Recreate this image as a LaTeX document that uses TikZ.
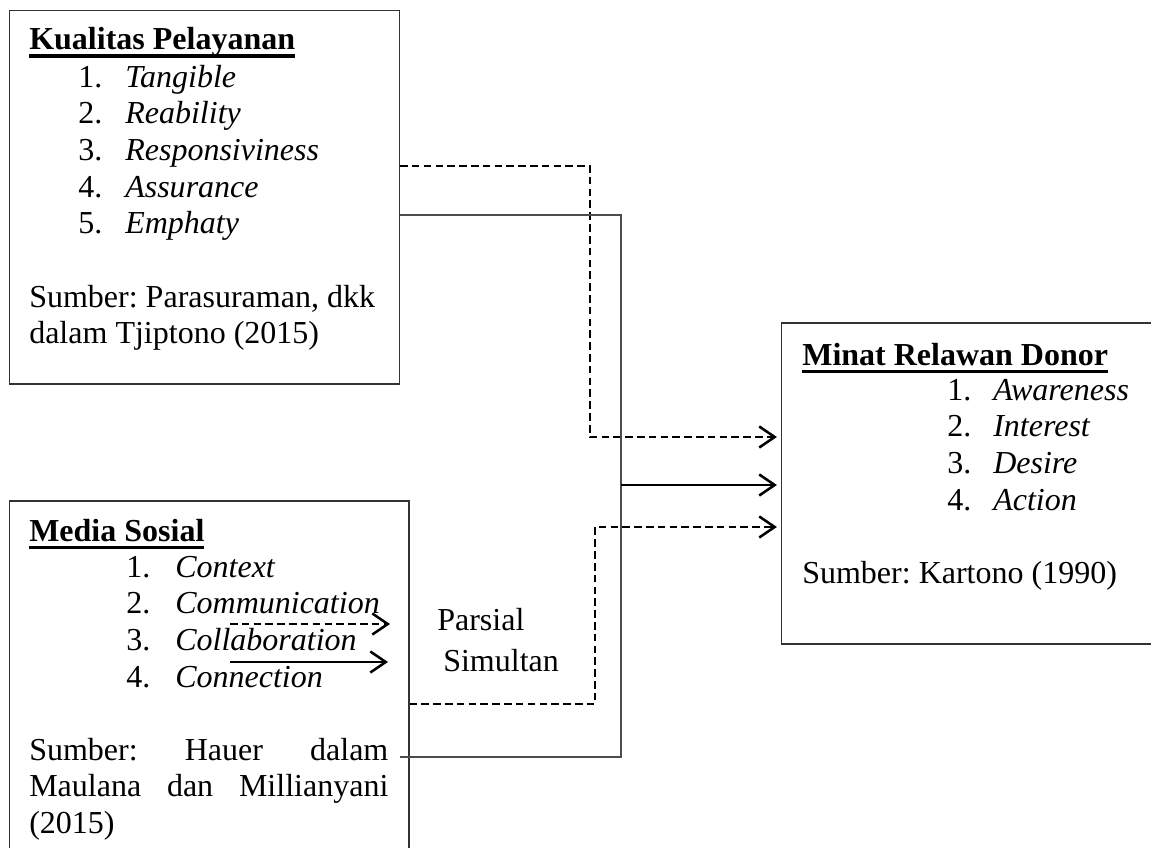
\documentclass[tikz,border=0pt]{standalone}
\usepackage{fontspec}
\setmainfont{Liberation Serif}
\usetikzlibrary{arrows.meta,fit,positioning}
\frenchspacing
\newcommand{\judul}[1]{\setbox0=\hbox{\bfseries #1}\rlap{\rule[-6pt]{\wd0}{2.6pt}}\box0}
\newcommand{\butir}[3][1.175cm]{\makebox[#1][l]{#2}\textit{#3}}

\begin{document}
\begin{tikzpicture}[x=0.025cm, y=-0.025cm,
    kotak/.style={draw=black!80, line width=0.8pt, inner sep=0pt},
    teks/.style={anchor=base west, inner sep=0pt, font=\fontsize{22.76}{27}\selectfont},
    garis/.style={draw=black!70, line width=1pt},
    putus/.style={line width=1.8pt, dash pattern=on 5.4pt off 3pt},
    panah/.style={-{Straight Barb[length=11pt,width=15pt,line width=1.8pt]}, line width=1.8pt}]
    \useasboundingbox (0,0) rectangle (1151,848);

    % kotak variabel
    \node[kotak, fit={(9.5,10.7) (399.5,384)}] (kp) {};
    \node[kotak, fit={(9.5,501) (409,858)}] (ms) {};
    \node[kotak, fit={(781.7,323) (1158,644)}] (mrd) {};

    % Kualitas Pelayanan
    \node[teks] (kp-judul) at (29,49.5) {\judul{Kualitas Pelayanan}};
    \node[teks] (kp-1) at (78,87) {\butir{1.}{Tangible}};
    \node[teks] (kp-2) at (78,123.5) {\butir{2.}{Reability}};
    \node[teks] (kp-3) at (78,160) {\butir{3.}{Responsiviness}};
    \node[teks] (kp-4) at (78,197) {\butir{4.}{Assurance}};
    \node[teks] (kp-5) at (78,233.5) {\butir{5.}{Emphaty}};
    \node[teks] (kp-s1) at (29,307) {Sumber: Parasuraman, dkk};
    \node[teks] (kp-s2) at (29,343.5) {dalam Tjiptono (2015)};

    % Media Sosial
    \node[teks] (ms-judul) at (29,541) {\judul{Media Sosial}};
    \node[teks] (ms-1) at (126,577) {\butir[1.225cm]{1.}{Context}};
    \node[teks] (ms-2) at (126,613.5) {\butir[1.225cm]{2.}{Communication}};
    \node[teks] (ms-3) at (126,650) {\butir[1.225cm]{3.}{Collaboration}};
    \node[teks] (ms-4) at (126,687) {\butir[1.225cm]{4.}{Connection}};
    \node[teks] (ms-s1) at (29,760) {\hbox to 8.975cm{Sumber:\hfill Hauer\hfill dalam}};
    \node[teks] (ms-s2) at (29,796.5) {\hbox to 8.975cm{Maulana\hfill dan\hfill Millianyani}};
    \node[teks] (ms-s3) at (29,833) {(2015)};

    % Minat Relawan Donor
    \node[teks] (mrd-judul) at (802,365) {\judul{Minat Relawan Donor}};
    \node[teks] (mrd-1) at (947,400) {\butir[1.15cm]{1.}{Awareness}};
    \node[teks] (mrd-2) at (947,436.5) {\butir[1.15cm]{2.}{Interest}};
    \node[teks] (mrd-3) at (947,473) {\butir[1.15cm]{3.}{Desire}};
    \node[teks] (mrd-4) at (947,510) {\butir[1.15cm]{4.}{Action}};
    \node[teks] (mrd-s) at (802,583) {Sumber: Kartono (1990)};

    % keterangan
    \coordinate (k1a) at (230,624);
    \coordinate (k1b) at (390,624);
    \coordinate (k2a) at (230,662);
    \coordinate (k2b) at (388,662);
    \draw[putus, panah] (k1a) -- (k1b);
    \draw[panah] (k2a) -- (k2b);
    \node[teks] (parsial) at (437,630) {Parsial};
    \node[teks] (simultan) at (443,671) {Simultan};

    % hubungan
    \coordinate (t1) at (590,166);
    \coordinate (b1) at (590,437);
    \draw[putus, panah, shorten >=3pt] (kp.east |- t1) -| (b1) -- (mrd.west |- b1);

    \coordinate (t2) at (621,215);
    \coordinate (b2) at (621,757);
    \draw[garis] (kp.east |- t2) -- (t2) -- (b2) -- ([xshift=-7pt]ms.east |- b2);
    \coordinate (t3) at (621,485);
    \draw[panah, shorten >=3pt] (t3) -- (mrd.west |- t3);

    \coordinate (b4) at (595,704);
    \coordinate (t4) at (595,527);
    \draw[putus, panah, shorten >=3pt] (ms.east |- b4) -| (t4) -- (mrd.west |- t4);
\end{tikzpicture}
\end{document}
